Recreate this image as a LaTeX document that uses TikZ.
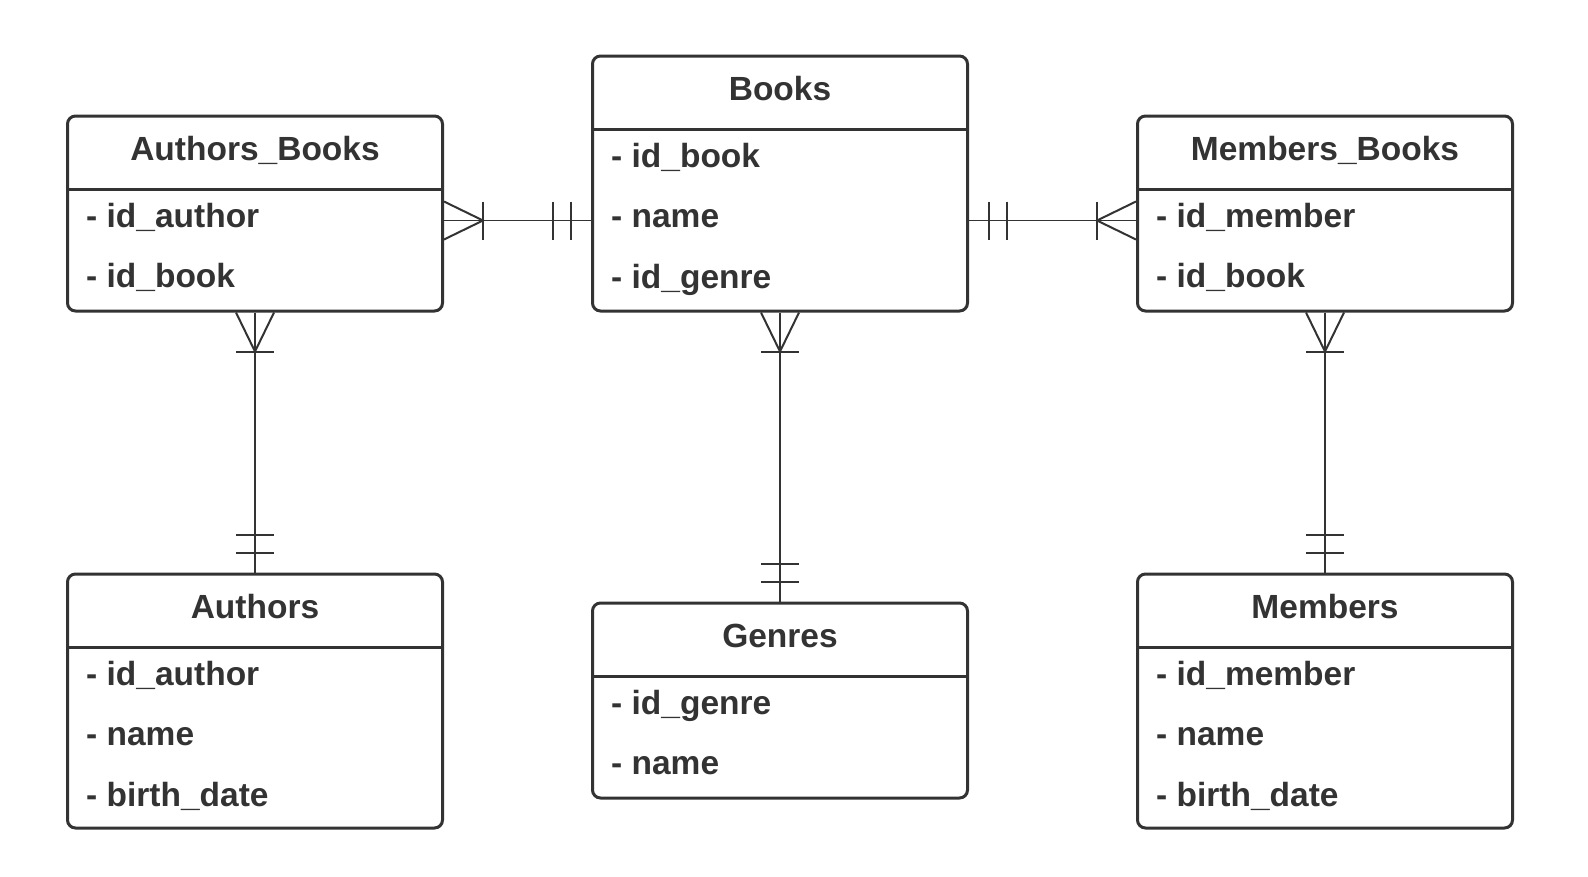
\documentclass[tikz,border=0pt]{standalone}
\usepackage{fontspec}
\setmainfont{Liberation Sans}
\usetikzlibrary{calc}
\definecolor{ink}{HTML}{333333}
\tikzset{
  entity/.style={draw=ink, line width=3pt, rounded corners=8pt, minimum width=375pt, inner sep=0pt, anchor=north west},
  divider/.style={draw=ink, line width=3pt},
  title/.style={font=\bfseries\fontsize{33.5}{40}\selectfont, text=ink, anchor=base, inner sep=0pt},
  field/.style={font=\bfseries\fontsize{33.5}{40}\selectfont, text=ink, anchor=base west, inner sep=0pt},
  rel/.style={draw=ink, line width=1.3pt},
  tick/.style={draw=ink, line width=2pt}
}
\begin{document}
\begin{tikzpicture}[x=1pt,y=-1pt]
\useasboundingbox[fill=white] (0,0) rectangle (1588,876);

% entities
\node[entity, minimum height=195pt] (ab) at (66,114.5) {};
\node[entity, minimum height=255pt] (bk) at (591,54.5) {};
\node[entity, minimum height=195pt] (mb) at (1136,114.5) {};
\node[entity, minimum height=254pt] (au) at (66,572.5) {};
\node[entity, minimum height=195pt] (ge) at (591,601.5) {};
\node[entity, minimum height=254pt] (me) at (1136,572.5) {};

\foreach \b in {ab,bk,mb,au,ge,me}{
  \draw[divider] ($(\b.north west)+(0,75)$) -- ($(\b.north east)+(0,75)$);
}

% titles
\node[title] (abt) at ($(ab.north)+(0,46)$) {Authors\_Books};
\node[title] (bkt) at ($(bk.north)+(0,46)$) {Books};
\node[title] (mbt) at ($(mb.north)+(0,46)$) {Members\_Books};
\node[title] (aut) at ($(au.north)+(0,46)$) {Authors};
\node[title] (get) at ($(ge.north)+(0,46)$) {Genres};
\node[title] (met) at ($(me.north)+(0,46)$) {Members};

% fields
\node[field] (ab1) at ($(ab.north west)+(20,112.8)$) {- id\_author};
\node[field] (ab2) at ($(ab.north west)+(20,173.2)$) {- id\_book};

\node[field] (bk1) at ($(bk.north west)+(20,112.8)$) {- id\_book};
\node[field] (bk2) at ($(bk.north west)+(20,173.2)$) {- name};
\node[field] (bk3) at ($(bk.north west)+(20,233.6)$) {- id\_genre};

\node[field] (mb1) at ($(mb.north west)+(20,112.8)$) {- id\_member};
\node[field] (mb2) at ($(mb.north west)+(20,173.2)$) {- id\_book};

\node[field] (au1) at ($(au.north west)+(20,112.8)$) {- id\_author};
\node[field] (au2) at ($(au.north west)+(20,173.2)$) {- name};
\node[field] (au3) at ($(au.north west)+(20,233.6)$) {- birth\_date};

\node[field] (ge1) at ($(ge.north west)+(20,112.8)$) {- id\_genre};
\node[field] (ge2) at ($(ge.north west)+(20,173.2)$) {- name};

\node[field] (me1) at ($(me.north west)+(20,112.8)$) {- id\_member};
\node[field] (me2) at ($(me.north west)+(20,173.2)$) {- name};
\node[field] (me3) at ($(me.north west)+(20,233.6)$) {- birth\_date};

% --- Authors_Books (many) -- Books (one)
\coordinate (abR) at ($(ab.north east)+(0,106)$);
\coordinate (bkL) at ($(bk.north west)+(0,166)$);
\draw[rel] (abR) -- (bkL);
\draw[tick] ($(abR)+(0,-19)$) -- ($(abR)+(39,0)$) -- ($(abR)+(0,19)$);
\draw[tick] ($(abR)+(39,-19)$) -- ($(abR)+(39,19)$);
\draw[tick] ($(bkL)+(-20,-19)$) -- ($(bkL)+(-20,19)$);
\draw[tick] ($(bkL)+(-38,-19)$) -- ($(bkL)+(-38,19)$);

% --- Books (one) -- Members_Books (many)
\coordinate (bkR) at ($(bk.north east)+(0,166)$);
\coordinate (mbL) at ($(mb.north west)+(0,106)$);
\draw[rel] (bkR) -- (mbL);
\draw[tick] ($(bkR)+(20,-19)$) -- ($(bkR)+(20,19)$);
\draw[tick] ($(bkR)+(38,-19)$) -- ($(bkR)+(38,19)$);
\draw[tick] ($(mbL)+(0,-19)$) -- ($(mbL)+(-39,0)$) -- ($(mbL)+(0,19)$);
\draw[tick] ($(mbL)+(-39,-19)$) -- ($(mbL)+(-39,19)$);

% --- vertical relations: many at top box, one at bottom box
\foreach \t/\b in {ab/au, bk/ge, mb/me}{
  \draw[rel] (\t.south) -- (\b.north);
  \draw[tick] ($(\t.south)+(-19,0)$) -- ($(\t.south)+(0,39)$) -- ($(\t.south)+(19,0)$);
  \draw[tick] ($(\t.south)+(-19,39)$) -- ($(\t.south)+(19,39)$);
  \draw[tick] ($(\b.north)+(-19,-20)$) -- ($(\b.north)+(19,-20)$);
  \draw[tick] ($(\b.north)+(-19,-38)$) -- ($(\b.north)+(19,-38)$);
}
\end{tikzpicture}
\end{document}
